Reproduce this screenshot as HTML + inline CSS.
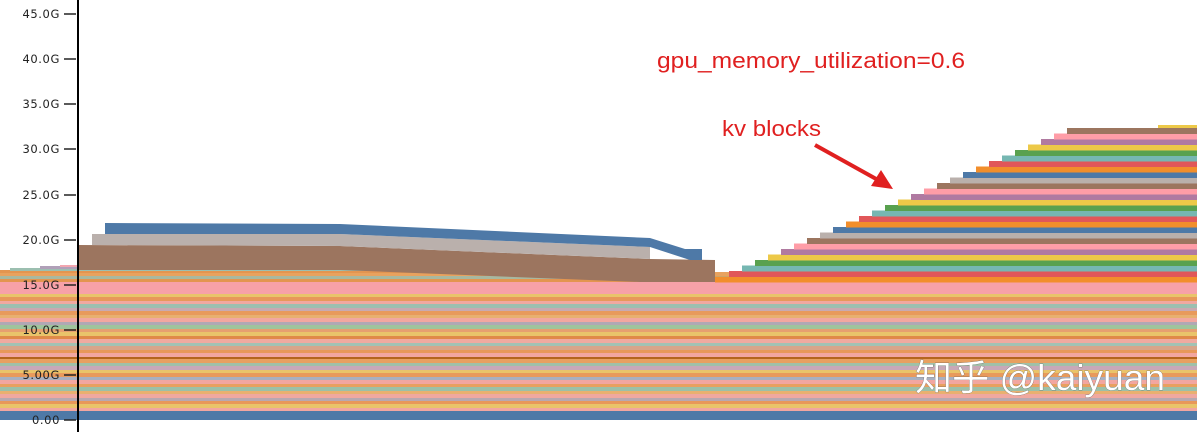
<!DOCTYPE html>
<html><head><meta charset="utf-8"><style>
html,body{margin:0;padding:0;background:#fff;width:1197px;height:432px;overflow:hidden}
svg{display:block}
</style></head><body>
<svg width="1197" height="432" viewBox="0 0 1197 432" xmlns="http://www.w3.org/2000/svg" font-family="'DejaVu Sans', sans-serif">
<g shape-rendering="crispEdges">
<rect x="0" y="272" width="1197" height="4" fill="#e8a25e"/>
<rect x="0" y="276" width="1197" height="3" fill="#a8b8a0"/>
<rect x="0" y="279" width="1197" height="3" fill="#e39550"/>
<rect x="0" y="282" width="1197" height="12" fill="#f7a1a8"/>
<rect x="0" y="294" width="1197" height="3" fill="#e9c46a"/>
<rect x="0" y="297" width="1197" height="4" fill="#e8985a"/>
<rect x="0" y="301" width="1197" height="3" fill="#f0a8a0"/>
<rect x="0" y="304" width="1197" height="4" fill="#9cbfb0"/>
<rect x="0" y="308" width="1197" height="3" fill="#c9a9b0"/>
<rect x="0" y="311" width="1197" height="4" fill="#e89a5c"/>
<rect x="0" y="315" width="1197" height="3" fill="#e8b070"/>
<rect x="0" y="318" width="1197" height="4" fill="#f2a7a0"/>
<rect x="0" y="322" width="1197" height="3" fill="#b0a8b4"/>
<rect x="0" y="325" width="1197" height="4" fill="#9fc49c"/>
<rect x="0" y="329" width="1197" height="3" fill="#e6a070"/>
<rect x="0" y="332" width="1197" height="4" fill="#e9c46a"/>
<rect x="0" y="336" width="1197" height="3" fill="#e08a48"/>
<rect x="0" y="339" width="1197" height="4" fill="#f0aaa0"/>
<rect x="0" y="343" width="1197" height="3" fill="#a2c2b4"/>
<rect x="0" y="346" width="1197" height="4" fill="#d8a58a"/>
<rect x="0" y="350" width="1197" height="3" fill="#e8985a"/>
<rect x="0" y="353" width="1197" height="4" fill="#f2a6a0"/>
<rect x="0" y="357" width="1197" height="2" fill="#b5651e"/>
<rect x="0" y="359" width="1197" height="4" fill="#e8a060"/>
<rect x="0" y="363" width="1197" height="3" fill="#a0c0a8"/>
<rect x="0" y="366" width="1197" height="4" fill="#c8a8b8"/>
<rect x="0" y="370" width="1197" height="3" fill="#e9c46a"/>
<rect x="0" y="373" width="1197" height="4" fill="#e89a5c"/>
<rect x="0" y="377" width="1197" height="3" fill="#a8b0c0"/>
<rect x="0" y="380" width="1197" height="4" fill="#f2a6a0"/>
<rect x="0" y="384" width="1197" height="3" fill="#e8a060"/>
<rect x="0" y="387" width="1197" height="4" fill="#9cc0a8"/>
<rect x="0" y="391" width="1197" height="3" fill="#e9b070"/>
<rect x="0" y="394" width="1197" height="4" fill="#f0a8a0"/>
<rect x="0" y="398" width="1197" height="3" fill="#b8a8b0"/>
<rect x="0" y="401" width="1197" height="3" fill="#e8985a"/>
<rect x="0" y="404" width="1197" height="4" fill="#e9c46a"/>
<rect x="0" y="408" width="1197" height="3" fill="#f2a6a0"/>
<rect x="0" y="411" width="1197" height="9" fill="#4e79a7"/>
<rect x="0" y="270" width="715" height="3" fill="#e39550"/>
<rect x="10" y="268" width="630" height="3" fill="#9cbfb0"/>
<rect x="40" y="266" width="560" height="3" fill="#b0a0b8"/>
<rect x="60" y="265" width="500" height="2" fill="#f2a6b0"/>
</g>
<polygon points="78,245 340,246 650,259 715,260 715,282 640,282 340,270 78,270" fill="#9c755f"/>
<polygon points="92,234 340,234 650,247 650,259 340,246 92,245" fill="#bab0ac"/>
<polygon points="105,223 340,224 650,238 685,249 702,249 702,260 690,260 650,247 340,234 105,234" fill="#4e79a7"/>
<g shape-rendering="crispEdges">
<rect x="715" y="276.5" width="482" height="6" fill="#f28e2b"/>
<rect x="729" y="271" width="468" height="6" fill="#e15759"/>
<rect x="742" y="265.5" width="455" height="6" fill="#76b7b2"/>
<rect x="755" y="260" width="442" height="6" fill="#59a14f"/>
<rect x="768" y="254.5" width="429" height="6" fill="#edc948"/>
<rect x="781" y="249" width="416" height="6" fill="#b07aa1"/>
<rect x="794" y="243.5" width="403" height="6" fill="#ff9da7"/>
<rect x="807" y="238" width="390" height="6" fill="#9c755f"/>
<rect x="820" y="232.5" width="377" height="6" fill="#bab0ac"/>
<rect x="833" y="227" width="364" height="6" fill="#4e79a7"/>
<rect x="846" y="221.5" width="351" height="6" fill="#f28e2b"/>
<rect x="859" y="216" width="338" height="6" fill="#e15759"/>
<rect x="872" y="210.5" width="325" height="6" fill="#76b7b2"/>
<rect x="885" y="205" width="312" height="6" fill="#59a14f"/>
<rect x="898" y="199.5" width="299" height="6" fill="#edc948"/>
<rect x="911" y="194" width="286" height="6" fill="#b07aa1"/>
<rect x="924" y="188.5" width="273" height="6" fill="#ff9da7"/>
<rect x="937" y="183" width="260" height="6" fill="#9c755f"/>
<rect x="950" y="177.5" width="247" height="6" fill="#bab0ac"/>
<rect x="963" y="172" width="234" height="6" fill="#4e79a7"/>
<rect x="976" y="166.5" width="221" height="6" fill="#f28e2b"/>
<rect x="989" y="161" width="208" height="6" fill="#e15759"/>
<rect x="1002" y="155.5" width="195" height="6" fill="#76b7b2"/>
<rect x="1015" y="150" width="182" height="6" fill="#59a14f"/>
<rect x="1028" y="144.5" width="169" height="6" fill="#edc948"/>
<rect x="1041" y="139" width="156" height="6" fill="#b07aa1"/>
<rect x="1054" y="133.5" width="143" height="6" fill="#ff9da7"/>
<rect x="1067" y="128" width="130" height="6" fill="#9c755f"/>
<rect x="1158" y="125" width="39" height="3" fill="#edc948"/>
</g>
<line x1="78" y1="0" x2="78" y2="432" stroke="#000" stroke-width="2"/>
<g font-size="11.5" fill="#222" text-anchor="end" letter-spacing="0.6">
<text x="60" y="424">0.00</text>
<text x="60" y="379">5.00G</text>
<text x="60" y="334">10.0G</text>
<text x="60" y="289">15.0G</text>
<text x="60" y="244">20.0G</text>
<text x="60" y="199">25.0G</text>
<text x="60" y="153">30.0G</text>
<text x="60" y="108">35.0G</text>
<text x="60" y="63">40.0G</text>
<text x="60" y="18">45.0G</text>
</g>
<g stroke="#222" stroke-width="1.5">
<line x1="64" y1="420" x2="76" y2="420"/><line x1="64" y1="375" x2="76" y2="375"/>
<line x1="64" y1="330" x2="76" y2="330"/><line x1="64" y1="285" x2="76" y2="285"/>
<line x1="64" y1="240" x2="76" y2="240"/><line x1="64" y1="195" x2="76" y2="195"/>
<line x1="64" y1="149" x2="76" y2="149"/><line x1="64" y1="104" x2="76" y2="104"/>
<line x1="64" y1="59" x2="76" y2="59"/><line x1="64" y1="14" x2="76" y2="14"/>
</g>
<text x="657" y="68" font-family="'Liberation Sans', sans-serif" font-size="22" textLength="308" lengthAdjust="spacingAndGlyphs" fill="#e02020">gpu_memory_utilization=0.6</text>
<text x="722" y="136" font-family="'Liberation Sans', sans-serif" font-size="22" textLength="99" lengthAdjust="spacingAndGlyphs" fill="#e02020">kv blocks</text>
<line x1="815" y1="145" x2="878" y2="180" stroke="#e02020" stroke-width="4"/>
<polygon points="893,189 871,186 881,170" fill="#e02020"/>
<text x="915" y="390" font-family="'Liberation Sans','Noto Sans CJK SC',sans-serif" font-size="36" textLength="250" lengthAdjust="spacingAndGlyphs" fill="#fff" stroke="#555" stroke-width="0.5" style="paint-order:stroke">知乎 @kaiyuan</text>
</svg>
</body></html>
